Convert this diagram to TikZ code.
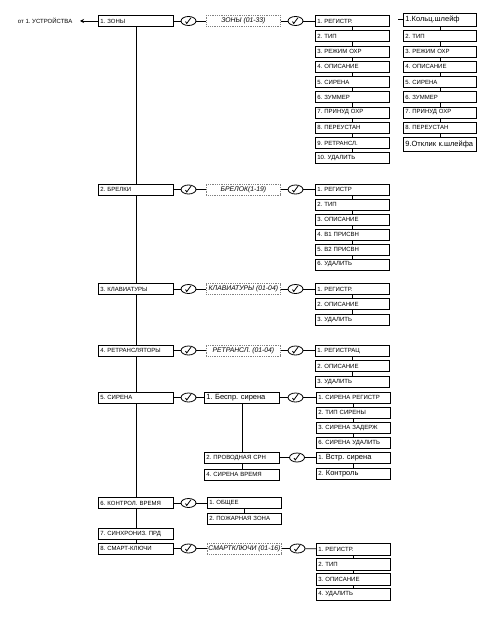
\documentclass[tikz,border=0pt]{standalone}
\usepackage{fontspec}
\setmainfont{Liberation Sans}
\usetikzlibrary{shapes.geometric,arrows.meta}
\frenchspacing

\begin{document}
\begin{tikzpicture}[
        x=1pt, y=-1pt,
        box/.style = {draw, anchor=west, inner xsep=2pt, inner ysep=0pt, minimum height=11pt,
                      text width=70pt, align=left, font=\fontsize{6}{7}\selectfont},
        big/.style = {font=\fontsize{7.5}{8.5}\selectfont},
        rng/.style = {draw=gray, densely dotted, anchor=west, minimum width=74pt, minimum height=11pt,
                      inner sep=0pt, font=\fontsize{6.8}{7.5}\selectfont\itshape},
        chk/.style = {draw, ellipse, minimum width=15pt, minimum height=9pt, inner sep=0pt,
                      path picture={\draw ([shift={(-3pt,-0.5pt)}]path picture bounding box.center)
                                    -- ++(1.2pt,-2pt) -- ++(4.3pt,5.8pt);}},
            line width=0.8pt
    ]
        \useasboundingbox (0,0) rectangle (486,623);

        % main column
        \foreach \n/\y/\t in {1/21/{1. ЗОНЫ}, 2/189.5/{2. БРЕЛКИ}, 3/289/{3. КЛАВИАТУРЫ},
                              4/350.5/{4. РЕТРАНСЛЯТОРЫ}, 5/397.5/{5. СИРЕНА}, 6/503/{6. КОНТРОЛ. ВРЕМЯ},
                              7/534/{7. СИНХРОНИЗ. ПРД}, 8/548.5/{8. СМАРТ-КЛЮЧИ}}
            \node[box, text width=71pt] (m\n) at (98,\y) {\t};
        \foreach \i [remember=\i as \lasti (initially 1)] in {2,...,8}
            \draw (m\lasti) -- (m\i);

        \node[font=\fontsize{6}{7}\selectfont, anchor=east] (dev) at (76,21) {от 1. УСТРОЙСТВА};
        \coordinate (back) at (80,21);
        \draw[-{Stealth[length=4pt,width=4pt]}] (m1) -- (back);

        % zones
        \node[chk] (c11) at (188.5,21) {};
        \node[rng] (zr) at (206,21) {ЗОНЫ (01-33)};
        \node[chk] (c12) at (295.5,21) {};
        \draw (m1) -- (c11) -- (zr) -- (c12);
        \foreach \t [count=\i] in {1. РЕГИСТР., 2. ТИП, 3. РЕЖИМ ОХР, 4. ОПИСАНИЕ, 5. СИРЕНА,
                                   6. ЗУММЕР, 7. ПРИНУД ОХР, 8. ПЕРЕУСТАН, 9. РЕТРАНСЛ., 10. УДАЛИТЬ}
            \node[box] (zon\i) at (315,{21+15.25*(\i-1)}) {\t};
        \draw (c12) -- (zon1);
        \foreach \i [remember=\i as \lasti (initially 1)] in {2,...,10}
            \draw (zon\lasti) -- (zon\i);

        \node[box, big, text width=69pt, minimum height=13pt] (loop1) at (403,19.5) {1.Кольц.шлейф};
        \foreach \t [count=\i from 2] in {2. ТИП, 3. РЕЖИМ ОХР, 4. ОПИСАНИЕ, 5. СИРЕНА,
                                          6. ЗУММЕР, 7. ПРИНУД ОХР, 8. ПЕРЕУСТАН}
            \node[box, text width=69pt] (loop\i) at (403,{21+15.25*(\i-1)}) {\t};
        \node[box, big, text width=69pt, minimum height=14pt] (loop9) at (403,144.5) {9.Отклик к.шлейфа};
        \coordinate (loopin) at (398,19.5);
        \draw (loopin) -- (loop1);
        \foreach \i [remember=\i as \lasti (initially 1)] in {2,...,9}
            \draw (loop\lasti) -- (loop\i);

        % key fobs
        \node[chk] (c21) at (188.5,189.5) {};
        \node[rng] (br) at (206,189.5) {БРЕЛОК(1-19)};
        \node[chk] (c22) at (295.5,189.5) {};
        \draw (m2) -- (c21) -- (br) -- (c22);
        \foreach \t [count=\i] in {1. РЕГИСТР, 2. ТИП, 3. ОПИСАНИЕ, 4. В1 ПРИСВН, 5. В2 ПРИСВН, 6. УДАЛИТЬ}
            \node[box] (fob\i) at (315,{189.5+15*(\i-1)}) {\t};
        \draw (c22) -- (fob1);
        \foreach \i [remember=\i as \lasti (initially 1)] in {2,...,6}
            \draw (fob\lasti) -- (fob\i);

        % keypads
        \node[chk] (c31) at (188.5,289) {};
        \node[rng] (kr) at (206,289) {КЛАВИАТУРЫ (01-04)};
        \node[chk] (c32) at (295.5,289) {};
        \draw (m3) -- (c31) -- (kr) -- (c32);
        \foreach \t [count=\i] in {1. РЕГИСТР., 2. ОПИСАНИЕ, 3. УДАЛИТЬ}
            \node[box] (kpd\i) at (315,{289+15.3*(\i-1)}) {\t};
        \draw (c32) -- (kpd1);
        \foreach \i [remember=\i as \lasti (initially 1)] in {2,3}
            \draw (kpd\lasti) -- (kpd\i);

        % repeaters
        \node[chk] (c41) at (188.5,350.5) {};
        \node[rng] (rr) at (206,350.5) {РЕТРАНСЛ. (01-04)};
        \node[chk] (c42) at (295.5,350.5) {};
        \draw (m4) -- (c41) -- (rr) -- (c42);
        \foreach \t [count=\i] in {1. РЕГИСТРАЦ, 2. ОПИСАНИЕ, 3. УДАЛИТЬ}
            \node[box] (rpt\i) at (315,{350.5+15.5*(\i-1)}) {\t};
        \draw (c42) -- (rpt1);
        \foreach \i [remember=\i as \lasti (initially 1)] in {2,3}
            \draw (rpt\lasti) -- (rpt\i);

        % sirens
        \node[chk] (c51) at (188.5,397.5) {};
        \node[box, big, text width=71pt] (wls) at (204,397.5) {1. Беспр. сирена};
        \node[box, text width=71pt] (wrd) at (204,457.5) {2. ПРОВОДНАЯ СРН};
        \node[box, text width=71pt] (stm) at (204,474.5) {4. СИРЕНА ВРЕМЯ};
        \node[chk] (c52) at (295.5,397.5) {};
        \draw (m5) -- (c51) -- (wls) -- (c52);
        \draw (wls) -- (wrd) -- (stm);
        \foreach \t [count=\i] in {1. СИРЕНА РЕГИСТР, 2. ТИП СИРЕНЫ, 3. СИРЕНА ЗАДЕРЖ, 6. СИРЕНА УДАЛИТЬ}
            \node[box] (srn\i) at (316,{397.5+15*(\i-1)}) {\t};
        \draw (c52) -- (srn1);
        \foreach \i [remember=\i as \lasti (initially 1)] in {2,...,4}
            \draw (srn\lasti) -- (srn\i);

        \node[chk] (c53) at (297,457.5) {};
        \node[box, big] (bin1) at (316,457.5) {{\fontsize{6}{7}\selectfont 1.} Встр. сирена};
        \node[box, big] (bin2) at (316,473.5) {{\fontsize{6}{7}\selectfont 2.} Контроль};
        \draw (wrd) -- (c53) -- (bin1) -- (bin2);

        % timer
        \node[chk] (c61) at (188.5,503) {};
        \node[box] (gen) at (207,503) {1. ОБЩЕЕ};
        \node[box] (fire) at (207,518.5) {2. ПОЖАРНАЯ ЗОНА};
        \draw (m6) -- (c61) -- (gen) -- (fire);

        % smart keys
        \node[chk] (c81) at (188.5,548.5) {};
        \node[rng] (sr) at (207,548.5) {СМАРТКЛЮЧИ (01-16)};
        \node[chk] (c82) at (297.5,548.5) {};
        \draw (m8) -- (c81) -- (sr) -- (c82);
        \foreach \t [count=\i] in {1. РЕГИСТР., 2. ТИП, 3. ОПИСАНИЕ, 4. УДАЛИТЬ}
            \node[box, minimum height=12pt] (smk\i) at (316,{549.5+15*(\i-1)}) {\t};
        \draw (c82) -- (smk1);
        \foreach \i [remember=\i as \lasti (initially 1)] in {2,...,4}
            \draw (smk\lasti) -- (smk\i);
    \end{tikzpicture}
\end{document}
